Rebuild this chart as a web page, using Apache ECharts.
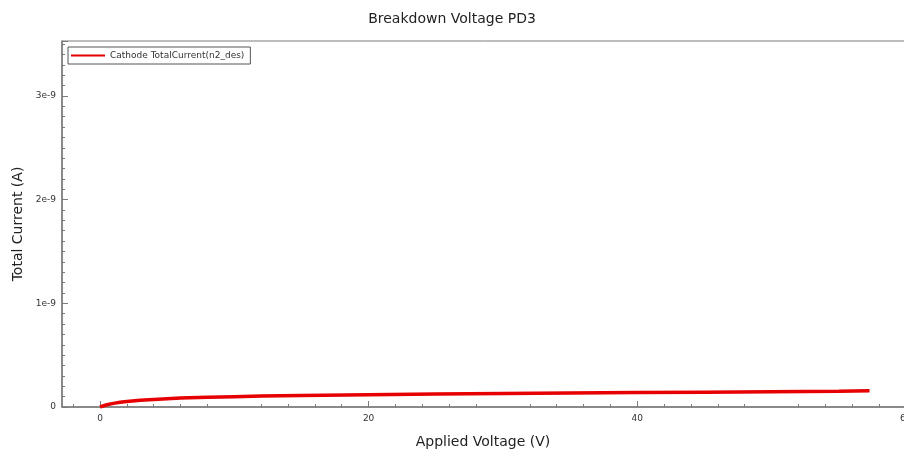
<!DOCTYPE html>
<html>
<head>
<meta charset="utf-8">
<title>Breakdown Voltage PD3</title>
<script src="https://cdn.jsdelivr.net/npm/echarts@6/dist/echarts.min.js"></script>
<style>
  html, body { margin: 0; padding: 0; background: #fff; }
  #chart { width: 904px; height: 456px; }
</style>
</head>
<body>
<div id="chart"></div>
<script>
// Applied voltage sweep (V)
const voltage = [0, 0.5, 1, 1.5, 2, 3, 4, 5, 6, 8, 10, 12, 15, 20, 25, 30, 35, 40, 45, 50, 55, 57.3];
// Cathode total current (A)
const cathodeCurrent = [0, 0.22e-10, 0.35e-10, 0.45e-10, 0.53e-10, 0.64e-10, 0.73e-10, 0.80e-10, 0.86e-10,
  0.94e-10, 1.00e-10, 1.05e-10, 1.11e-10, 1.19e-10, 1.26e-10, 1.31e-10, 1.35e-10, 1.39e-10, 1.43e-10,
  1.48e-10, 1.53e-10, 1.56e-10];
// Axis tick positions
const xMajorTicks = [0, 20, 40, 60];
const xMinorTicks = [-2, 2, 4, 6, 8, 12, 14, 16, 18, 22, 24, 26, 28, 32, 34, 36, 38, 42, 44, 46, 48, 52, 54, 56, 58];
const seriesName = 'Cathode TotalCurrent(n2_des)';

const axisColor = '#7a7a7a';
const textColor = '#333';
const font = 'DejaVu Sans';

const chart = echarts.init(document.getElementById('chart'), null, { renderer: 'canvas' });

chart.setOption({
  animation: false,
  backgroundColor: '#fff',
  textStyle: { fontFamily: font },
  title: {
    text: 'Breakdown Voltage PD3',
    left: 'center',
    top: 7,
    textStyle: { fontFamily: font, fontSize: 14, fontWeight: 'normal', color: '#222' }
  },
  legend: {
    left: 68,
    top: 47,
    orient: 'vertical',
    backgroundColor: '#fff',
    borderColor: '#555',
    borderWidth: 1,
    borderRadius: 0,
    padding: [4, 6, 4, 3],
    itemWidth: 34,
    itemHeight: 10,
    itemGap: 4,
    icon: 'path://M0,4 L34,4 L34,6 L0,6 Z',
    textStyle: { fontFamily: font, fontSize: 9, color: textColor },
    data: [seriesName]
  },
  grid: {
    left: 62,
    right: -10,
    top: 41,
    bottom: 49,
    show: true,
    borderColor: axisColor,
    borderWidth: 1,
    containLabel: false,
    outerBoundsMode: 'none'
  },
  xAxis: [
    {
      type: 'value',
      min: -2.83,
      max: 60.61,
      name: 'Applied Voltage (V)',
      nameLocation: 'middle',
      nameGap: 28,
      nameTextStyle: { fontFamily: font, fontSize: 14, color: '#222', padding: [0, 10, 0, 0] },
      axisLine: { show: true, onZero: false, lineStyle: { color: axisColor, width: 1.5 } },
      axisTick: { show: true, inside: true, length: 6, customValues: xMajorTicks, lineStyle: { color: axisColor } },
      axisLabel: { show: true, customValues: xMajorTicks, fontSize: 9, color: textColor, margin: 7, fontFamily: font },
      splitLine: { show: false }
    },
    {
      type: 'value',
      position: 'bottom',
      min: -2.83,
      max: 60.61,
      axisLine: { show: false },
      axisTick: { show: true, inside: true, length: 3, customValues: xMinorTicks, lineStyle: { color: axisColor } },
      axisLabel: { show: false },
      splitLine: { show: false }
    }
  ],
  yAxis: {
    type: 'value',
    min: 0,
    max: 3.53e-9,
    interval: 1e-9,
    name: 'Total Current (A)',
    nameLocation: 'middle',
    nameGap: 37,
    nameTextStyle: { fontFamily: font, fontSize: 14, color: '#222' },
    axisLine: { show: true, onZero: false, lineStyle: { color: axisColor, width: 1.5 } },
    axisTick: { show: true, inside: true, length: 6, lineStyle: { color: axisColor } },
    minorTick: { show: true, splitNumber: 10, length: 3, lineStyle: { color: axisColor } },
    axisLabel: {
      fontSize: 9,
      color: textColor,
      margin: 6,
      fontFamily: font,
      showMaxLabel: false,
      formatter: function (v) {
        if (v === 0) return '0';
        return Math.round(v / 1e-9) + 'e-9';
      }
    },
    splitLine: { show: false }
  },
  series: [
    {
      name: seriesName,
      type: 'line',
      xAxisIndex: 0,
      data: voltage.map((v, i) => [v, cathodeCurrent[i]]),
      showSymbol: false,
      smooth: false,
      lineStyle: { color: '#e60000', width: 3.5 },
      itemStyle: { color: '#e60000' }
    }
  ]
});
</script>
</body>
</html>
